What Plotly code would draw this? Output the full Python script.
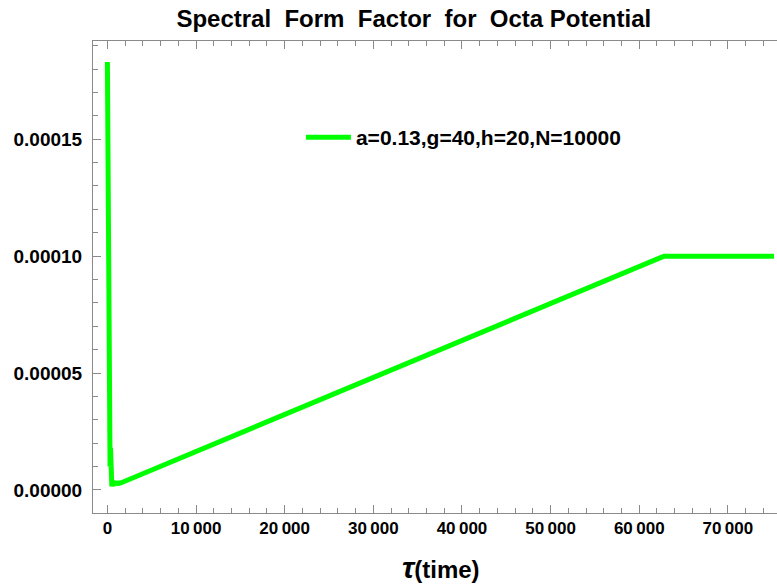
import plotly.graph_objects as go

# Spectral form factor data
tau_early = [0, 30, 60, 90, 120, 150, 180, 220, 260, 300, 350, 400, 450, 500, 600, 700, 800, 900, 1000, 1100, 1200, 1300, 1500]
sff_early = [0.000183, 0.000150, 0.000165, 0.000110, 0.000140, 0.000070, 0.000095, 0.000030, 0.000045, 0.000010,
             0.000018, 0.000004, 0.000008, 0.0000015, 0.000004, 0.000002, 0.000003, 0.0000022, 0.0000038,
             0.0000025, 0.0000035, 0.0000028, 0.0000030]
tau_ramp = [62800, 75200]
sff_ramp = [0.000100, 0.000100]

tau = tau_early + tau_ramp
sff = sff_early + sff_ramp

x_ticks = [0, 10000, 20000, 30000, 40000, 50000, 60000, 70000]
x_ticktext = ["0", "10\u2009000", "20\u2009000", "30\u2009000", "40\u2009000", "50\u2009000", "60\u2009000", "70\u2009000"]
y_ticks = [0.0, 0.00005, 0.00010, 0.00015]
y_ticktext = ["0.00000", "0.00005", "0.00010", "0.00015"]

frame = "#8a8a8a"
font_family = "Liberation Sans, Arial, sans-serif"

fig = go.Figure(go.Scatter(
    x=tau, y=sff,
    mode="lines",
    line=dict(color="#00ff00", width=5),
    name="a=0.13,g=40,h=20,N=10000",
))

fig.update_layout(
    width=777, height=584,
    margin=dict(l=93, r=0, t=41, b=71),
    paper_bgcolor="white",
    plot_bgcolor="white",
    font=dict(family=font_family, color="black"),
    title=dict(
        text="Spectral  Form  Factor  for  Octa Potential",
        x=0.469, xanchor="center", xref="paper",
        y=0.969, yanchor="middle",
        font=dict(size=24, weight="bold", color="black"),
    ),
    showlegend=True,
    legend=dict(
        x=0.304, y=0.839, xanchor="left", yanchor="top",
        bgcolor="rgba(0,0,0,0)",
        itemwidth=45,
        font=dict(size=21, weight="bold", color="black"),
    ),
    xaxis=dict(
        range=[-1625, 75540],
        showgrid=False, zeroline=False,
        showline=True, linecolor=frame, linewidth=1, mirror="ticks",
        ticks="inside", ticklen=8, tickcolor=frame,
        tickvals=x_ticks, ticktext=x_ticktext,
        tickfont=dict(size=17, weight="bold", color="black"),
        minor=dict(ticks="inside", ticklen=5, dtick=2000, tick0=0, tickcolor=frame, showgrid=False),
    ),
    yaxis=dict(
        range=[-0.00000984, 0.000192],
        showgrid=False, zeroline=False,
        showline=True, linecolor=frame, linewidth=1, mirror=False,
        ticks="inside", ticklen=8, tickcolor=frame,
        tickvals=y_ticks, ticktext=y_ticktext,
        tickfont=dict(size=19, weight="bold", color="black"),
        ticklabelstandoff=6,
        minor=dict(ticks="inside", ticklen=5, dtick=0.00001, tick0=0, tickcolor=frame, showgrid=False),
    ),
)

fig.add_annotation(
    text="<span style='font-size:30px'><i>τ</i></span>(time)",
    xref="paper", yref="paper",
    x=0.509, y=-0.1165, xanchor="center", yanchor="middle",
    showarrow=False,
    font=dict(size=24, weight="bold", color="black"),
)

# drop the default 8px page margin so the figure fills the window exactly
fig.write_html(
    "out.html",
    config={"displayModeBar": False},
    post_script="document.body.style.margin = '0';",
)
